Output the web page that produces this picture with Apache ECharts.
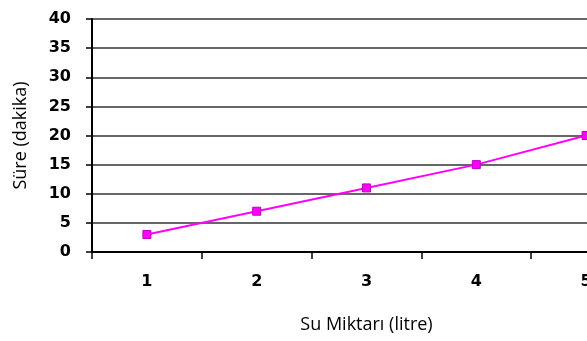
<!DOCTYPE html>
<html><head><meta charset="utf-8">
<script src="https://cdn.jsdelivr.net/npm/echarts@6/dist/echarts.min.js"></script>
<style>html,body{margin:0;padding:0;background:#fff}#c{width:587px;height:341px}</style>
</head><body><div id="c"></div>
<script>
const categories = ['1', '2', '3', '4', '5'];
const sureValues = [3, 7, 11, 15, 20];
const yTicks = [0, 5, 10, 15, 20, 25, 30, 35, 40];

const chart = echarts.init(document.getElementById('c'), null, {renderer: 'canvas'});
chart.setOption({
  animation: false,
  grid: {left: 92, top: 19, width: 549, height: 233, containLabel: false, outerBoundsMode: 'none'},
  xAxis: {
    type: 'category', data: categories, boundaryGap: true,
    name: 'Su Miktarı (litre)', nameLocation: 'middle', nameGap: 64,
    nameTextStyle: {fontFamily: 'Open Sans', fontSize: 18, color: '#000'},
    axisLine: {lineStyle: {color: '#000', width: 2}},
    axisTick: {show: true, length: 7, lineStyle: {color: '#000', width: 1.5}},
    axisLabel: {margin: 22, fontFamily: 'DejaVu Sans', fontWeight: 'bold', fontSize: 16, color: '#000'},
    splitLine: {show: false}
  },
  yAxis: {
    type: 'value', min: yTicks[0], max: yTicks[yTicks.length - 1], interval: 5,
    name: 'Süre (dakika)', nameLocation: 'middle', nameGap: 62, nameRotate: 90,
    nameTextStyle: {fontFamily: 'Open Sans', fontSize: 18, color: '#000'},
    axisLine: {show: true, lineStyle: {color: '#000', width: 2}},
    axisTick: {show: true, length: 6, lineStyle: {color: '#000', width: 1.5}},
    axisLabel: {margin: 21, fontFamily: 'DejaVu Sans', fontWeight: 'bold', fontSize: 16, color: '#000'},
    splitLine: {show: true, lineStyle: {color: '#333', width: 1.5}}
  },
  series: [{
    type: 'line', data: sureValues,
    symbol: 'rect', symbolSize: 8,
    lineStyle: {color: '#ff00ff', width: 2},
    itemStyle: {color: '#ff00ff', borderColor: '#c000c0', borderWidth: 1}
  }]
});
</script></body></html>
